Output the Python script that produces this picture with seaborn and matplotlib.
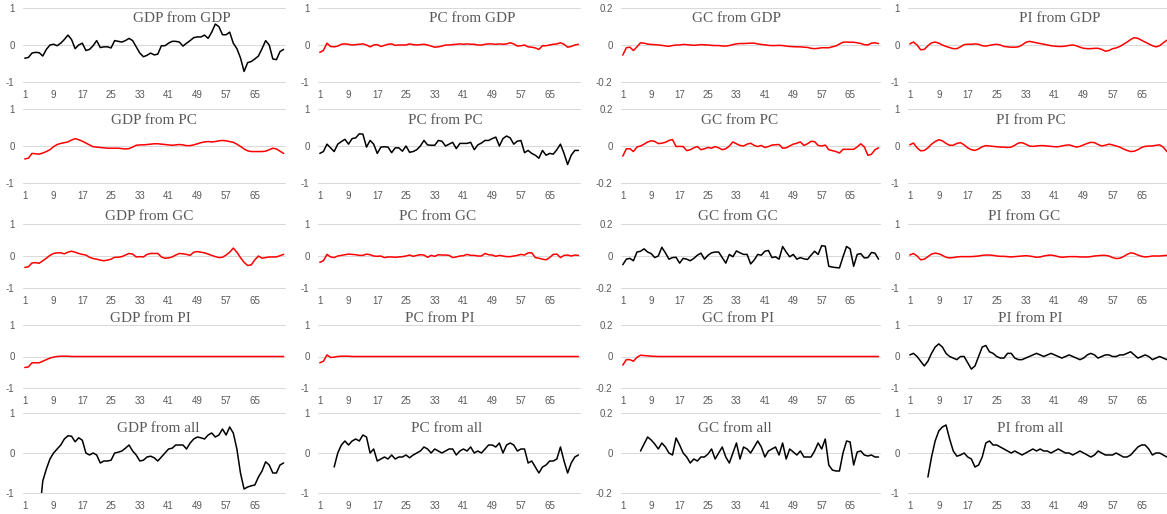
import matplotlib

matplotlib.use("Agg")
import matplotlib.pyplot as plt
import numpy as np
import pandas as pd
import seaborn as sns

nan = np.nan

# period index shared by every panel
periods = list(range(1, 74))
x_ticks = [1, 9, 17, 25, 33, 41, 49, 57, 65]
x_tick_labels = ["1", "9", "17", "25", "33", "41", "49", "57", "65"]

responses = ["GDP", "PC", "GC", "PI"]
shocks = ["GDP", "PC", "GC", "PI", "all"]
y_limit = {"GDP": 1, "PC": 1, "GC": 0.2, "PI": 1}
y_tick_labels = {1: ["-1", "0", "1"], 0.2: ["-0.2", "0", "0.2"]}

# ---- row 1: from GDP
gdp_from_gdp = [
    -0.36, -0.34, -0.22, -0.2, -0.21, -0.3, -0.12, 0.0, 0.02, -0.02,
    0.05, 0.15, 0.27, 0.15, -0.1, 0.0, 0.05, -0.15, -0.12, -0.02,
    0.12, -0.07, -0.05, -0.05, -0.08, 0.12, 0.1, 0.08, 0.12, 0.18,
    0.12, -0.05, -0.22, -0.32, -0.28, -0.22, -0.27, -0.25, -0.02, -0.02,
    0.05, 0.1, 0.1, 0.08, -0.03, 0.05, 0.12, 0.2, 0.22, 0.22,
    0.27, 0.18, 0.35, 0.57, 0.5, 0.28, 0.28, 0.35, 0.05, -0.1,
    -0.35, -0.72, -0.48, -0.45, -0.38, -0.3, -0.1, 0.12, 0.0, -0.38,
    -0.4, -0.18, -0.12,
]
pc_from_gdp = [
    -0.2, -0.15, 0.05, -0.04, -0.05, -0.03, 0.02, 0.03, 0.02, 0.0,
    0.01, 0.02, 0.03, 0.0, -0.05, 0.0, 0.01, -0.04, -0.01, 0.02,
    0.03, -0.01, 0.0, 0.0, 0.0, 0.03, 0.01, 0.0, 0.01, 0.02,
    0.0, -0.03, -0.06, -0.05, -0.03, 0.0, 0.0, 0.01, 0.02, 0.03,
    0.02, 0.03, 0.02, 0.02, 0.0, 0.0, 0.02, 0.03, 0.03, 0.02,
    0.03, 0.02, 0.03, 0.06, 0.03, -0.03, -0.02, 0.0, -0.05, -0.06,
    -0.08, -0.12, -0.02, -0.02, 0.0, 0.02, 0.03, 0.06, 0.02, -0.06,
    -0.04, 0.0, 0.02,
]
gc_from_gdp = [
    -0.055, -0.015, -0.012, -0.03, -0.01, 0.012, 0.01, 0.005, 0.003, 0.002,
    0.0, -0.002, -0.005, -0.007, -0.003, 0.0, 0.0, 0.003, 0.002, 0.0,
    -0.002, 0.0, 0.002, 0.001, 0.0, -0.002, -0.003, -0.003, -0.005, -0.006,
    -0.003, 0.002, 0.006, 0.008, 0.008, 0.009, 0.01, 0.01, 0.006, 0.003,
    0.001, -0.002, -0.003, -0.003, -0.002, -0.003, -0.006, -0.008, -0.009, -0.01,
    -0.01, -0.012, -0.013, -0.018, -0.02, -0.018, -0.015, -0.015, -0.015, -0.01,
    -0.005, 0.005, 0.015, 0.016, 0.015, 0.015, 0.012, 0.008, 0.002, 0.0,
    0.01, 0.012, 0.008,
]
pi_from_gdp = [
    0.03, 0.08, 0.0, -0.13, -0.12, -0.02, 0.06, 0.08, 0.05, 0.0,
    -0.04, -0.07, -0.1, -0.1, -0.05, 0.01, 0.02, 0.02, 0.03, 0.02,
    -0.02, -0.03, -0.01, 0.01, 0.02, 0.0, -0.04, -0.05, -0.06, -0.06,
    -0.05, 0.0, 0.07, 0.1, 0.08, 0.06, 0.04, 0.02, 0.0, -0.02,
    -0.03, -0.04, -0.04, -0.03, -0.01, 0.0, -0.02, -0.06, -0.09, -0.1,
    -0.1, -0.09, -0.09, -0.12, -0.17, -0.15, -0.1, -0.08, -0.04, 0.02,
    0.08, 0.15, 0.2, 0.18, 0.13, 0.08, 0.03, -0.02, -0.05, -0.02,
    0.06, 0.13, 0.14,
]

# ---- row 2: from PC
gdp_from_pc = [
    -0.35, -0.33, -0.2, -0.21, -0.22, -0.19, -0.15, -0.1, -0.02, 0.04,
    0.07, 0.09, 0.11, 0.16, 0.2, 0.17, 0.13, 0.08, 0.03, -0.02,
    -0.03, -0.04, -0.05, -0.06, -0.06, -0.06, -0.06, -0.07, -0.08, -0.07,
    -0.03, 0.02, 0.03, 0.03, 0.04, 0.05, 0.06, 0.06, 0.05, 0.04,
    0.03, 0.02, 0.03, 0.04, 0.03, 0.01, 0.01, 0.03, 0.06, 0.09,
    0.11, 0.12, 0.11, 0.12, 0.14, 0.15, 0.14, 0.12, 0.1, 0.05,
    -0.01, -0.08, -0.13, -0.15, -0.15, -0.15, -0.15, -0.14, -0.1, -0.06,
    -0.08, -0.14, -0.2,
]
pc_from_pc = [
    -0.2, -0.15, 0.05, -0.05, -0.15, 0.05, 0.12, 0.18, 0.05, 0.2,
    0.22, 0.33, 0.32, -0.03, 0.15, 0.05, -0.2, -0.03, -0.02, -0.03,
    -0.18, -0.05, -0.05, -0.14, 0.0, -0.17, -0.15, -0.1, 0.0, 0.15,
    0.03, 0.02, 0.02, 0.15, 0.13, 0.0, 0.05, 0.1, -0.07, 0.07,
    0.07, 0.07, 0.1, -0.1, 0.03, 0.08, 0.15, 0.15, 0.2, 0.24,
    0.0, 0.2, 0.27, 0.22, 0.05, 0.13, 0.15, -0.18, -0.12, -0.2,
    -0.25, -0.33, -0.12, -0.25, -0.2, -0.22, -0.1, 0.05, -0.2, -0.5,
    -0.25, -0.12, -0.12,
]
gc_from_pc = [
    -0.055, -0.015, -0.015, -0.03, -0.005, 0.0, 0.01, 0.022, 0.028, 0.025,
    0.013, 0.015, 0.02, 0.03, 0.035, -0.003, -0.002, -0.003, -0.025, -0.02,
    -0.01, -0.003, -0.02, -0.015, -0.008, -0.012, -0.003, -0.01, -0.02, -0.015,
    0.0, 0.022, 0.012, 0.003, 0.0, 0.01, 0.015, 0.003, -0.003, 0.003,
    -0.008, -0.003, 0.005, 0.007, 0.008, -0.012, -0.01, 0.0, 0.01, 0.015,
    0.022, 0.003, 0.012, 0.025, 0.024, 0.003, 0.0, 0.005, -0.02, -0.025,
    -0.03, -0.038, -0.018, -0.018, -0.018, -0.018, -0.005, 0.012, -0.005, -0.05,
    -0.045, -0.02, -0.01,
]
pi_from_pc = [
    0.03, 0.08, -0.05, -0.13, -0.12, -0.05, 0.05, 0.12, 0.17, 0.14,
    0.07, 0.02, 0.02, 0.07, 0.09, 0.03, -0.05, -0.1, -0.12, -0.08,
    -0.02, 0.01, 0.0, -0.01, -0.02, -0.03, -0.03, -0.04, -0.03, 0.02,
    0.08, 0.09, 0.05, 0.0, -0.01, 0.0, 0.01, 0.01, 0.0, -0.01,
    -0.02, -0.02, 0.0, 0.02, 0.03, 0.0, -0.03, -0.01, 0.03, 0.07,
    0.1, 0.09, 0.04, 0.0, 0.02, 0.05, 0.03, 0.0, -0.03, -0.08,
    -0.12, -0.15, -0.14, -0.1, -0.04, -0.01, 0.0, 0.0, 0.02, 0.03,
    -0.03, -0.15, -0.18,
]

# ---- row 3: from GC
gdp_from_gc = [
    -0.36, -0.34, -0.22, -0.21, -0.23, -0.15, -0.07, 0.02, 0.08, 0.1,
    0.1, 0.07, 0.12, 0.15, 0.12, 0.08, 0.05, 0.03, -0.04, -0.08,
    -0.1, -0.13, -0.15, -0.13, -0.1, -0.04, -0.04, -0.02, 0.03, 0.08,
    0.06, -0.03, -0.02, -0.03, 0.05, 0.08, 0.08, 0.08, -0.03, -0.07,
    -0.06, -0.03, 0.03, 0.08, 0.07, 0.05, 0.02, 0.12, 0.14, 0.12,
    0.1, 0.06, 0.02, -0.02, -0.05, -0.04, 0.03, 0.12, 0.25, 0.12,
    -0.05, -0.2, -0.3, -0.28, -0.12, 0.0, -0.07, -0.05, -0.03, -0.03,
    -0.03, 0.01, 0.05,
]
pc_from_gc = [
    -0.2, -0.15, 0.05, -0.03, -0.05, 0.0, 0.02, 0.04, 0.06, 0.05,
    0.04, 0.02, 0.02, 0.06, 0.04, 0.0, -0.01, 0.0, -0.05, -0.03,
    -0.03, -0.04, -0.03, -0.02, 0.0, 0.03, -0.01, 0.02, 0.04, 0.03,
    -0.04, 0.02, -0.01, 0.04, 0.03, 0.03, 0.02, -0.05, -0.03, 0.0,
    0.01, 0.05, 0.02, 0.02, 0.0, 0.0, 0.08, 0.04, 0.03, -0.01,
    0.02, 0.0, -0.02, -0.02, 0.0, 0.02, 0.05, 0.03, 0.1, 0.1,
    -0.05, -0.07, -0.1, -0.12, -0.05, 0.05, 0.06, -0.05, 0.02, 0.03,
    0.0, 0.03, 0.02,
]
gc_from_gc = [
    -0.055, -0.02, -0.015, -0.03, 0.025, 0.03, 0.045, 0.025, 0.015, -0.01,
    0.0, 0.055, 0.02, -0.02, -0.01, -0.008, -0.045, -0.015, -0.02, -0.03,
    -0.015, 0.005, 0.018, -0.02, 0.005, 0.02, 0.025, 0.025, -0.01, -0.045,
    0.01, -0.005, 0.032, 0.02, 0.01, 0.01, -0.05, -0.025, 0.01, 0.005,
    0.03, 0.035, -0.01, -0.005, -0.02, 0.06, 0.025, -0.005, 0.01, -0.02,
    -0.01, -0.018, -0.022, 0.005, 0.03, 0.01, 0.065, 0.062, -0.065, -0.07,
    -0.073, -0.075, -0.005, 0.06, 0.045, -0.065, 0.01, 0.015, -0.012, -0.01,
    0.022, 0.018, -0.02,
]
pi_from_gc = [
    0.03, 0.08, 0.0, -0.12, -0.1, -0.02, 0.06, 0.09, 0.07, 0.02,
    -0.04, -0.06, -0.05, -0.03, -0.02, -0.02, -0.02, -0.02, -0.01, 0.0,
    0.02, 0.03, 0.03, 0.02, 0.0, -0.01, -0.01, -0.02, -0.03, -0.02,
    -0.01, 0.0, 0.01, 0.0, -0.02, -0.04, -0.03, 0.0, 0.02, 0.03,
    0.01, -0.02, -0.04, -0.03, -0.02, -0.02, -0.02, -0.03, -0.03, -0.03,
    -0.02, 0.0, 0.01, 0.02, 0.02, 0.0, -0.05, -0.08, -0.07, -0.02,
    0.05, 0.1, 0.08, 0.03, -0.01, -0.03, -0.02, 0.0, 0.0, 0.0,
    0.01, 0.02, 0.02,
]

# ---- row 4: from PI
gdp_from_pi = [
    -0.35, -0.33, -0.2, -0.2, -0.2, -0.15, -0.1, -0.05, -0.02, 0.0,
    0.01, 0.01, 0.01, 0.0, 0.0, 0.0, 0.0, 0.0, 0.0, 0.0,
    0.0, 0.0, 0.0, 0.0, 0.0, 0.0, 0.0, 0.0, 0.0, 0.0,
    0.0, 0.0, 0.0, 0.0, 0.0, 0.0, 0.0, 0.0, 0.0, 0.0,
    0.0, 0.0, 0.0, 0.0, 0.0, 0.0, 0.0, 0.0, 0.0, 0.0,
    0.0, 0.0, 0.0, 0.0, 0.0, 0.0, 0.0, 0.0, 0.0, 0.0,
    0.0, 0.0, 0.0, 0.0, 0.0, 0.0, 0.0, 0.0, 0.0, 0.0,
    0.0, 0.0, 0.0,
]
pc_from_pi = [
    -0.2, -0.15, 0.05, -0.03, -0.02, 0.0, 0.01, 0.01, 0.01, 0.0,
    0.0, 0.0, 0.0, 0.0, 0.0, 0.0, 0.0, 0.0, 0.0, 0.0,
    0.0, 0.0, 0.0, 0.0, 0.0, 0.0, 0.0, 0.0, 0.0, 0.0,
    0.0, 0.0, 0.0, 0.0, 0.0, 0.0, 0.0, 0.0, 0.0, 0.0,
    0.0, 0.0, 0.0, 0.0, 0.0, 0.0, 0.0, 0.0, 0.0, 0.0,
    0.0, 0.0, 0.0, 0.0, 0.0, 0.0, 0.0, 0.0, 0.0, 0.0,
    0.0, 0.0, 0.0, 0.0, 0.0, 0.0, 0.0, 0.0, 0.0, 0.0,
    0.0, 0.0, 0.0,
]
gc_from_pi = [
    -0.055, -0.02, -0.02, -0.03, -0.005, 0.008, 0.006, 0.004, 0.002, 0.001,
    0.0, 0.0, 0.0, 0.0, 0.0, 0.0, 0.0, 0.0, 0.0, 0.0,
    0.0, 0.0, 0.0, 0.0, 0.0, 0.0, 0.0, 0.0, 0.0, 0.0,
    0.0, 0.0, 0.0, 0.0, 0.0, 0.0, 0.0, 0.0, 0.0, 0.0,
    0.0, 0.0, 0.0, 0.0, 0.0, 0.0, 0.0, 0.0, 0.0, 0.0,
    0.0, 0.0, 0.0, 0.0, 0.0, 0.0, 0.0, 0.0, 0.0, 0.0,
    0.0, 0.0, 0.0, 0.0, 0.0, 0.0, 0.0, 0.0, 0.0, 0.0,
    0.0, 0.0, 0.0,
]
pi_from_pi = [
    0.05, 0.1, 0.0, -0.15, -0.3, -0.15, 0.1, 0.3, 0.4, 0.3,
    0.1, 0.0, -0.05, -0.1, 0.0, 0.0, -0.2, -0.4, -0.3, 0.0,
    0.3, 0.35, 0.15, 0.1, 0.0, -0.05, -0.05, 0.1, 0.1, -0.05,
    -0.1, -0.1, -0.05, 0.0, 0.05, 0.1, 0.05, 0.0, 0.05, 0.1,
    0.05, 0.0, -0.05, 0.0, 0.05, 0.0, -0.05, -0.1, -0.05, 0.05,
    0.1, 0.05, -0.05, 0.0, 0.05, 0.05, 0.0, 0.0, 0.05, 0.05,
    0.1, 0.15, 0.05, -0.05, 0.0, 0.05, 0.0, -0.1, -0.05, 0.0,
    -0.05, -0.1, -0.1,
]

# ---- row 5: from all
gdp_from_all = [
    nan, nan, nan, nan, -1.6, -0.7, -0.4, -0.15, 0.0, 0.1,
    0.2, 0.35, 0.43, 0.42, 0.28, 0.38, 0.32, 0.0, -0.05, 0.0,
    -0.05, -0.25, -0.2, -0.2, -0.18, 0.0, 0.02, 0.05, 0.12, 0.2,
    0.05, -0.05, -0.2, -0.18, -0.1, -0.08, -0.12, -0.2, -0.1, 0.0,
    0.1, 0.12, 0.2, 0.2, 0.2, 0.1, 0.25, 0.35, 0.4, 0.38,
    0.35, 0.45, 0.5, 0.4, 0.45, 0.6, 0.45, 0.65, 0.5, 0.1,
    -0.5, -0.9, -0.85, -0.82, -0.8, -0.6, -0.45, -0.22, -0.3, -0.5,
    -0.5, -0.3, -0.25,
]
pc_from_all = [
    nan, nan, nan, nan, -0.35, 0.0, 0.2, 0.3, 0.2, 0.3,
    0.35, 0.3, 0.45, 0.4, 0.0, 0.1, -0.2, -0.15, -0.1, -0.15,
    -0.05, -0.15, -0.1, -0.1, -0.05, -0.12, -0.05, 0.0, 0.05, 0.15,
    0.1, 0.0, 0.1, 0.05, 0.0, 0.05, 0.1, 0.1, -0.05, 0.05,
    0.1, 0.05, 0.15, 0.0, 0.05, 0.0, 0.1, 0.2, 0.2, 0.15,
    0.25, 0.0, 0.2, 0.25, 0.2, 0.05, 0.1, 0.1, -0.25, -0.2,
    -0.35, -0.5, -0.35, -0.3, -0.2, -0.2, -0.15, 0.15, -0.2, -0.5,
    -0.25, -0.1, -0.05,
]
gc_from_all = [
    nan, nan, nan, nan, nan, 0.01, 0.045, 0.08, 0.065, 0.045,
    0.02, 0.05, 0.03, 0.0, -0.01, 0.075, 0.04, 0.0, -0.02, -0.05,
    -0.03, -0.04, -0.02, -0.02, -0.005, 0.02, -0.03, 0.0, 0.03, -0.02,
    -0.05, 0.0, 0.05, -0.03, 0.03, 0.02, 0.0, 0.03, 0.06, 0.03,
    -0.02, 0.01, 0.02, 0.03, -0.01, 0.05, -0.03, 0.02, 0.005, -0.01,
    0.01, -0.02, -0.02, -0.02, 0.01, 0.05, 0.02, 0.07, -0.06, -0.085,
    -0.09, -0.09, 0.0, 0.06, 0.055, -0.06, 0.005, 0.01, -0.01, -0.015,
    -0.01, -0.02, -0.02,
]
pi_from_all = [
    nan, nan, nan, nan, nan, -0.6, -0.1, 0.3, 0.55, 0.65,
    0.7, 0.35, 0.05, -0.08, -0.05, 0.0, -0.1, -0.15, -0.35, -0.3,
    -0.1, 0.25, 0.3, 0.2, 0.2, 0.15, 0.1, 0.05, 0.0, 0.05,
    0.0, -0.05, 0.0, 0.05, 0.1, 0.05, 0.1, 0.05, 0.05, 0.0,
    0.05, 0.1, 0.05, 0.0, 0.0, -0.05, 0.0, 0.05, 0.0, -0.05,
    -0.1, -0.05, 0.05, 0.0, -0.05, -0.05, -0.05, 0.0, -0.05, -0.1,
    -0.1, -0.05, 0.05, 0.15, 0.2, 0.2, 0.1, -0.05, 0.0, 0.0,
    -0.05, -0.1, -0.1,
]

series = {
    ("GDP", "GDP"): gdp_from_gdp, ("PC", "GDP"): pc_from_gdp,
    ("GC", "GDP"): gc_from_gdp, ("PI", "GDP"): pi_from_gdp,
    ("GDP", "PC"): gdp_from_pc, ("PC", "PC"): pc_from_pc,
    ("GC", "PC"): gc_from_pc, ("PI", "PC"): pi_from_pc,
    ("GDP", "GC"): gdp_from_gc, ("PC", "GC"): pc_from_gc,
    ("GC", "GC"): gc_from_gc, ("PI", "GC"): pi_from_gc,
    ("GDP", "PI"): gdp_from_pi, ("PC", "PI"): pc_from_pi,
    ("GC", "PI"): gc_from_pi, ("PI", "PI"): pi_from_pi,
    ("GDP", "all"): gdp_from_all, ("PC", "all"): pc_from_all,
    ("GC", "all"): gc_from_all, ("PI", "all"): pi_from_all,
}

# ---- layout, in pixels of the 1167x514 canvas
W, H = 1167, 514
col_left = [23, 318, 621, 908]
col_width = [262.4, 262.2, 259.3, 264.3]
row_top = [8.3, 109, 224.3, 325, 413]
row_bottom = [81.7, 183, 287.7, 388, 493]
title_y = [18, 120, 217, 318, 429]
title_x = [
    [182, 472, 736, 1060],
    [154, 445, 740, 1031],
    [149, 438, 738, 1024],
    [150, 440, 738, 1030],
    [158, 447, 735, 1030],
]

sns.set_style("white")
plt.rcParams["axes.unicode_minus"] = False
plt.rcParams["font.family"] = ["Liberation Sans", "DejaVu Sans"]

text_grey = "#595959"
fig = plt.figure(figsize=(W / 100, H / 100), dpi=100)
fig.patch.set_facecolor("white")

for r, shock in enumerate(shocks):
    for c, resp in enumerate(responses):
        ax = fig.add_axes([
            col_left[c] / W,
            1 - row_bottom[r] / H,
            col_width[c] / W,
            (row_bottom[r] - row_top[r]) / H,
        ])
        df = pd.DataFrame({"period": periods, "value": series[(resp, shock)]})
        colour = "black" if (resp == shock or shock == "all") else "#ff0000"
        sns.lineplot(data=df, x="period", y="value", ax=ax, color=colour,
                     linewidth=1.1, estimator=None)
        lim = y_limit[resp]
        ax.set_xlim(0.5, 73.5)
        ax.set_ylim(-lim, lim)
        ax.set_yticks([-lim, 0, lim])
        ax.set_yticklabels(y_tick_labels[lim])
        ax.set_xticks(x_ticks)
        ax.set_xticklabels(x_tick_labels)
        ax.set_xlabel("")
        ax.set_ylabel("")
        ax.set_axisbelow(True)
        ax.grid(axis="y", color="#d9d9d9", linewidth=0.75)
        ax.grid(axis="x", visible=False)
        for gl in ax.get_ygridlines():
            gl.set_clip_on(False)
        for spine in ax.spines.values():
            spine.set_visible(False)
        ax.tick_params(axis="both", length=0, labelsize=7, colors=text_grey)
        ax.tick_params(axis="x", pad=6)
        ax.tick_params(axis="y", pad=6)
        ax.set_facecolor("none")
        fig.text(title_x[r][c] / W, 1 - title_y[r] / H, f"{resp} from {shock}",
                 ha="center", va="center", fontsize=11, color=text_grey,
                 family=["Liberation Serif", "DejaVu Serif"])

fig.savefig("out.png", dpi=100, facecolor="white")
